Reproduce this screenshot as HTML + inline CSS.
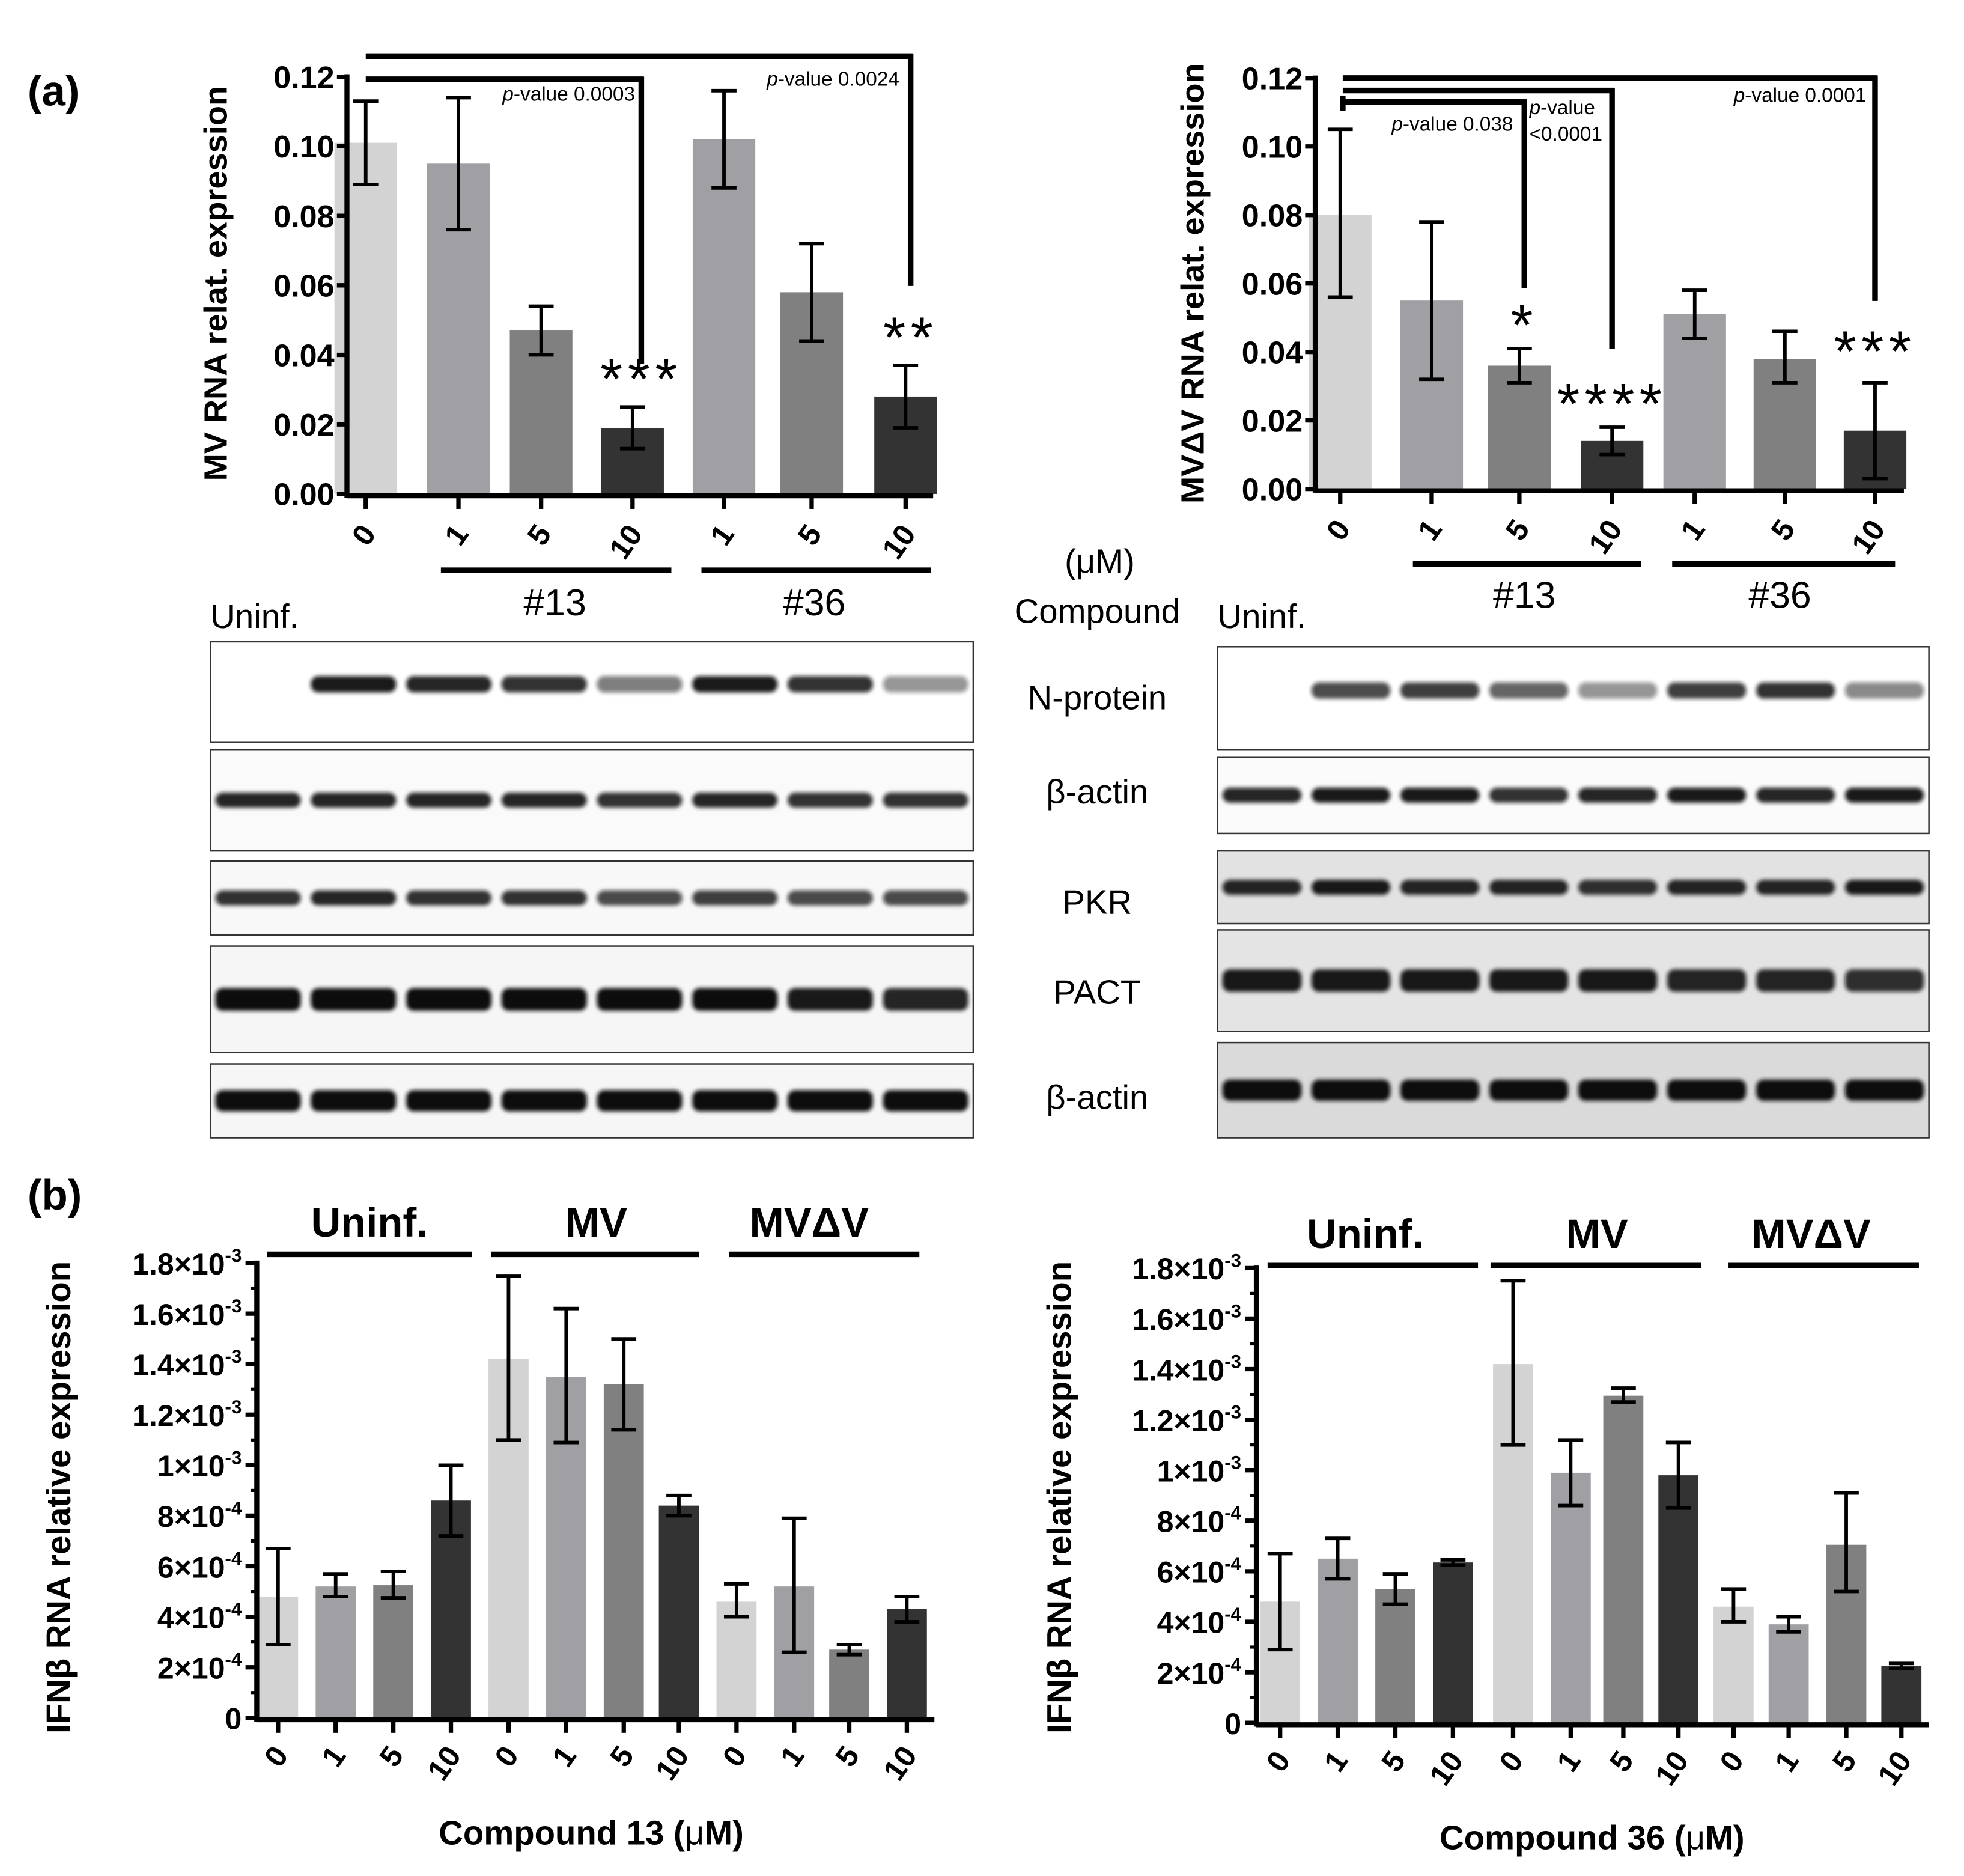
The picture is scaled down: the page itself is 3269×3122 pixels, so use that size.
<!DOCTYPE html>
<html><head><meta charset="utf-8">
<style>
html,body{margin:0;padding:0;background:#fff;}
svg{display:block;}
text{font-family:"Liberation Sans",Arial,sans-serif;}
</style></head>
<body>
<svg id="fig" width="3269" height="3122" viewBox="0 0 1568 1497" xmlns="http://www.w3.org/2000/svg">
<defs>
<filter id="blur" x="-20%" y="-100%" width="140%" height="300%"><feGaussianBlur stdDeviation="1.6"/></filter>
</defs>
<text x="22" y="84" font-size="34" font-weight="bold">(a)</text>
<text x="22" y="965" font-size="34" font-weight="bold">(b)</text>
<g id="g"></g>
</svg>
<script>
// ===== Chart A1: MV RNA =====
const a1Categories = ["0","1","5","10","1","5","10"];
const a1Values = [0.101,0.095,0.047,0.019,0.102,0.058,0.028];
const a1Low = [0.089,0.076,0.040,0.013,0.088,0.044,0.019];
const a1High = [0.113,0.114,0.054,0.025,0.116,0.072,0.037];
const a1Ticks = ["0.00","0.02","0.04","0.06","0.08","0.10","0.12"];
// ===== Chart A2: MVdV RNA =====
const a2Categories = ["0","1","5","10","1","5","10"];
const a2Values = [0.080,0.055,0.036,0.014,0.051,0.038,0.017];
const a2Low = [0.056,0.032,0.031,0.010,0.044,0.031,0.003];
const a2High = [0.105,0.078,0.041,0.018,0.058,0.046,0.031];
const a2Ticks = ["0.00","0.02","0.04","0.06","0.08","0.10","0.12"];
// ===== Chart B1: IFNb compound 13 (units 1e-4) =====
const b1Categories = ["0","1","5","10","0","1","5","10","0","1","5","10"];
const b1Values = [4.8,5.2,5.25,8.6,14.2,13.5,13.2,8.4,4.6,5.2,2.7,4.3];
const b1Low = [2.9,4.8,4.75,7.2,11.0,10.9,11.4,8.0,4.0,2.6,2.5,3.8];
const b1High = [6.7,5.7,5.8,10.0,17.5,16.2,15.0,8.8,5.3,7.9,2.9,4.8];
// ===== Chart B2: IFNb compound 36 (units 1e-4) =====
const b2Categories = ["0","1","5","10","0","1","5","10","0","1","5","10"];
const b2Values = [4.8,6.5,5.3,6.35,14.2,9.9,12.95,9.8,4.6,3.9,7.05,2.25];
const b2Low = [2.9,5.7,4.7,6.25,11.0,8.6,12.7,8.5,4.0,3.6,5.2,2.15];
const b2High = [6.7,7.3,5.9,6.45,17.5,11.2,13.25,11.1,5.3,4.2,9.1,2.35];
const bTickMant = ["0","2×10","4×10","6×10","8×10","1×10","1.2×10","1.4×10","1.6×10","1.8×10"];
const bTickExp = ["","-4","-4","-4","-4","-3","-3","-3","-3","-3"];

const NS="http://www.w3.org/2000/svg";
const G=document.getElementById('g');
function mk(tag,attrs,parent){const e=document.createElementNS(NS,tag);for(const k in attrs)e.setAttribute(k,attrs[k]);(parent||G).appendChild(e);return e;}
function line(x1,y1,x2,y2,w,name){const e=mk('line',{x1,y1,x2,y2,stroke:'#000','stroke-width':w||3});

return e;}
function txt(x,y,s,size,opts,name){const e=mk('text',Object.assign({x,y,'font-size':size,fill:'#000'},opts||{}));e.textContent=s;

return e;}

const colsA=["#d3d3d3","#a0a0a4","#808080","#333333","#a0a0a4","#808080","#333333"];
const colsB=["#d3d3d3","#a0a0a4","#808080","#333333"];

function barChart(cfg){
  const {axX,y0,yTop,vmax,centers,bw,vals,lo,hi,cols,xEnd,cats,prefix}=cfg;
  const ys=v=>y0-(v/vmax)*(y0-yTop);
  vals.forEach((v,i)=>{
    const r=mk('rect',{x:centers[i]-bw/2,y:ys(v),width:bw,height:y0-ys(v),fill:cols[i%cols.length]});
    
    
    const cx=centers[i];
    line(cx,ys(lo[i]),cx,ys(hi[i]),2.8,prefix+'-errorbar-'+i);
    line(cx-10,ys(lo[i]),cx+10,ys(lo[i]),2.8,prefix+'-errorcap-low-'+i);
    line(cx-10,ys(hi[i]),cx+10,ys(hi[i]),2.8,prefix+'-errorcap-high-'+i);
    line(cx,y0,cx,y0+12,3.5,prefix+'-xtick-'+i);
    txt(0,0,cats[i],cfg.xfs||24,{'font-weight':'bold','text-anchor':'end',transform:`translate(${cx+9},${y0+cfg.xlOff}) rotate(-55)`},prefix+'-xtick-label-'+i);
  });
  line(axX,y0+1.5,xEnd,y0+1.5,4,prefix+'-x-axis');
  line(axX,yTop-2,axX,y0+3,4,prefix+'-y-axis');
  return ys;
}

// A1
(function(){
  const centers=[292,366,432,505,578,648,723];
  const ys=barChart({axX:277,y0:394,yTop:61,vmax:0.12,centers,bw:50,vals:a1Values,lo:a1Low,hi:a1High,cols:colsA,xEnd:745,cats:a1Categories,prefix:'a1',xlOff:32,xfs:24});
  a1Ticks.forEach((t,i)=>{const v=i*0.02;line(269,ys(v),277,ys(v),3.5,'a1-ytick-'+i);txt(267,ys(v)+9,t,25,{'font-weight':'bold','text-anchor':'end'},'a1-ytick-label-'+i);});
  txt(0,0,"MV RNA relat. expression",26,{'font-weight':'bold','text-anchor':'middle',transform:'translate(181,226) rotate(-90)'},'a1-y-axis-title');
  line(292,45,729,45,4.5,'a1-bracket-36');line(727,43,727,228,4.5,'a1-bracket-36-drop');
  line(292,63,514,63,4.5,'a1-bracket-13');line(512,61,512,290,4.5,'a1-bracket-13-drop');
  const p1=txt(507,80,"",16,{'text-anchor':'end'},'a1-pvalue-13');p1.innerHTML='<tspan font-style="italic">p</tspan>-value 0.0003';
  const p2=txt(718,68,"",16,{'text-anchor':'end'},'a1-pvalue-36');p2.innerHTML='<tspan font-style="italic">p</tspan>-value 0.0024';
  txt(512,318,"***",46,{'text-anchor':'middle','letter-spacing':'4'},'a1-sig-13');
  txt(727,285,"**",46,{'text-anchor':'middle','letter-spacing':'4'},'a1-sig-36');
  line(352,455,536,455,4.5,'a1-group-13-line');line(560,455,743,455,4.5,'a1-group-36-line');
  txt(443,491,"#13",30,{'text-anchor':'middle'},'a1-group-13-label');txt(650,491,"#36",30,{'text-anchor':'middle'},'a1-group-36-label');
})();

// A2
(function(){
  const centers=[1070,1143,1213,1287,1353,1425,1497];
  const ys=barChart({axX:1050,y0:390,yTop:62,vmax:0.12,centers,bw:50,vals:a2Values,lo:a2Low,hi:a2High,cols:colsA,xEnd:1520,cats:a2Categories,prefix:'a2',xlOff:32,xfs:24});
  a2Ticks.forEach((t,i)=>{const v=i*0.02;line(1042,ys(v),1050,ys(v),3.5,'a2-ytick-'+i);txt(1040,ys(v)+9,t,25,{'font-weight':'bold','text-anchor':'end'},'a2-ytick-label-'+i);});
  txt(0,0,"MVΔV RNA relat. expression",26,{'font-weight':'bold','text-anchor':'middle',transform:'translate(961,226) rotate(-90)'},'a2-y-axis-title');
  line(1072,62,1499,62,4.5,'a2-bracket-36');line(1497,60,1497,240,4.5,'a2-bracket-36-drop');
  line(1072,72,1289,72,4.5,'a2-bracket-13-10');line(1287,70,1287,278,4.5,'a2-bracket-13-10-drop');
  line(1072,81,1219,81,4.5,'a2-bracket-13-5');line(1217,79,1217,230,4.5,'a2-bracket-13-5-drop');
  line(1072,76,1072,88,4.5,'a2-bracket-stem');
  const p1=txt(1208,104,"",16,{'text-anchor':'end'},'a2-pvalue-5');p1.innerHTML='<tspan font-style="italic">p</tspan>-value 0.038';
  const p2=txt(1221,91,"",16,{},'a2-pvalue-10a');p2.innerHTML='<tspan font-style="italic">p</tspan>-value';
  txt(1221,112,"<0.0001",16,{},'a2-pvalue-10b');
  const p3=txt(1490,81,"",16,{'text-anchor':'end'},'a2-pvalue-36');p3.innerHTML='<tspan font-style="italic">p</tspan>-value 0.0001';
  txt(1215,275,"*",46,{'text-anchor':'middle'},'a2-sig-5');
  txt(1287,338,"****",46,{'text-anchor':'middle','letter-spacing':'4'},'a2-sig-10');
  txt(1497,296,"***",46,{'text-anchor':'middle','letter-spacing':'4'},'a2-sig-36');
  line(1128,450,1310,450,4.5,'a2-group-13-line');line(1335,450,1513,450,4.5,'a2-group-36-line');
  txt(1217,485,"#13",30,{'text-anchor':'middle'},'a2-group-13-label');txt(1421,485,"#36",30,{'text-anchor':'middle'},'a2-group-36-label');
})();

txt(878,457,"(μM)",27,{'text-anchor':'middle'},'unit-label');
txt(876,497,"Compound",27,{'text-anchor':'middle'},'compound-label');
txt(168,501,"Uninf.",27,{},'blot-left-uninf-label');
txt(972,501,"Uninf.",27,{},'blot-right-uninf-label');

// Blots
const blotNames=["N-protein","β-actin","PKR","PACT","β-actin"];
const leftBoxes=[[512,592],[598,679],[687,746],[755,840],[849,908]];
const rightBoxes=[[516,598],[604,665],[679,737],[742,823],[832,908]];
const leftBand=[[0,.95,.9,.85,.55,.95,.85,.45],[.9,.9,.9,.9,.85,.9,.85,.85],[.85,.9,.85,.85,.75,.8,.75,.75],[1,1,1,1,1,1,.95,.9],[1,1,1,1,1,1,1,1]];
const rightBand=[[0,.75,.8,.65,.45,.8,.85,.5],[.9,.95,.95,.85,.9,.95,.9,.95],[.9,.95,.9,.9,.85,.9,.9,.95],[.95,.95,.95,.95,.95,.9,.9,.85],[1,1,1,1,1,1,1,1]];
const leftBg=["#fff","#fafafa","#f8f8f8","#f6f6f6","#f6f6f6"];
const rightBg=["#fff","#fbfbfb","#e2e2e2","#e4e4e4","#dadada"];
const bandTh=[13,12,12,18,17];
function blot(x0,x1,boxes,bands,bgs,side){
  const lw=(x1-x0)/8;
  boxes.forEach((b,r)=>{
    const rc=mk('rect',{x:x0,y:b[0],width:x1-x0,height:b[1]-b[0],fill:bgs[r],stroke:'#333','stroke-width':1.2});
    
    
    const cy=(b[0]+b[1])/2+(r==0?-6:0);
    const th=bandTh[r];
    bands[r].forEach((v,i)=>{
      if(v<=0)return;
      const e=mk('rect',{x:x0+lw*i+4,y:cy-th/2,width:lw-8,height:th,rx:6,fill:'#111','fill-opacity':v,filter:'url(#blur)'});
      
      
    });
  });
}
blot(168,777,leftBoxes,leftBand,leftBg,'left');
blot(972,1540,rightBoxes,rightBand,rightBg,'right');
const labY=[557,632,720,792,876];
blotNames.forEach((n,i)=>txt(876,labY[i]+9,n,27,{'text-anchor':'middle'},'blot-label-'+i));

// B charts
function bChart(axX,y0,yTop,centers,vals,lo,hi,cats,prefix,groups,title,titleX,yTitleX){
  const ys=barChart({axX,y0,yTop,vmax:18,centers,bw:32,vals,lo,hi,cols:colsB,xEnd:centers[11]+22,cats,prefix,xlOff:30,xfs:24});
  for(let i=0;i<=18;i++){const v=i;line(axX-(i%2==0?9:5),ys(v),axX,ys(v),i%2==0?3.5:2.5,prefix+'-ytick-'+i);}
  bTickMant.forEach((m,i)=>{
    const t=txt(axX-12,ys(i*2)+9,"",24,{'font-weight':'bold','text-anchor':'end'},prefix+'-ytick-label-'+i);
    t.innerHTML= bTickExp[i]? `${m}<tspan font-size="15" dy="-10">${bTickExp[i]}</tspan>` : m;
  });
  const gl=["Uninf.","MV","MVΔV"];
  groups.forEach((g,i)=>{line(g[0],g[2],g[1],g[2],4.5,prefix+'-group-line-'+i);txt(g[3],g[2]-14,gl[i],33,{'font-weight':'bold','text-anchor':'middle'},prefix+'-group-label-'+i);});
  txt(titleX,y0+101,"",27,{'font-weight':'bold','text-anchor':'middle'},prefix+'-x-axis-title').innerHTML=title;
  txt(0,0,"IFNβ RNA relative expression",27,{'font-weight':'bold','text-anchor':'middle',transform:`translate(${yTitleX},1195) rotate(-90)`},prefix+'-y-axis-title');
}
bChart(205,1371,1008,[222,268,314,360,406,452,498,542,588,634,678,724],b1Values,b1Low,b1High,b1Categories,'b1',
  [[213,377,1001,295],[392,558,1001,476],[582,734,1001,646]],'Compound 13 (<tspan font-weight="normal">μ</tspan>M)',472,56);
bChart(1003,1375,1012,[1022,1068,1114,1160,1208,1254,1296,1340,1384,1428,1474,1518],b2Values,b2Low,b2High,b2Categories,'b2',
  [[1012,1180,1010,1090],[1190,1358,1010,1275],[1380,1532,1010,1446]],'Compound 36 (<tspan font-weight="normal">μ</tspan>M)',1271,855);
</script>
</body></html>
